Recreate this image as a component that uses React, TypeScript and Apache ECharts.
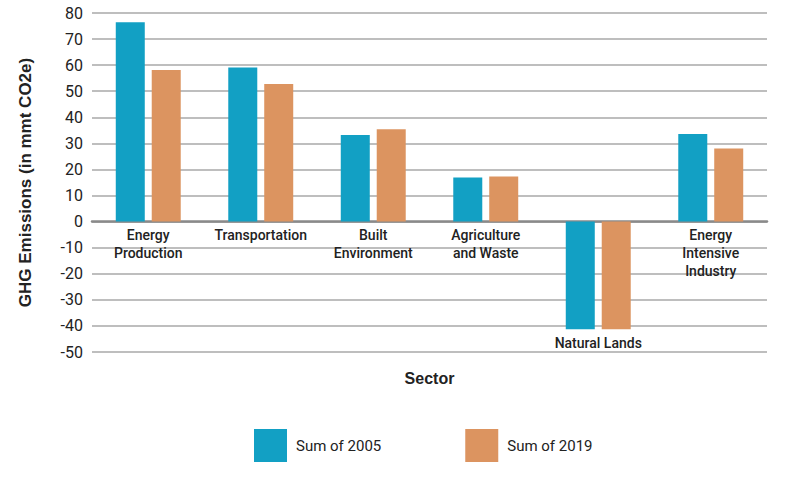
import React, { useEffect, useRef } from "react";
import * as echarts from "echarts";

const categories = [
  "Energy\nProduction",
  "Transportation",
  "Built\nEnvironment",
  "Agriculture\nand Waste",
  "Natural Lands",
  "Energy\nIntensive\nIndustry",
];
const sum2005 = [76.5, 59.1, 33.2, 16.9, -41.3, 33.6];
const sum2019 = [58.1, 52.8, 35.4, 17.3, -41.3, 28.0];
const seriesNames = ["Sum of 2005", "Sum of 2019"];

const FONT = "'Roboto', sans-serif";

export default function App() {
  const ref = useRef<HTMLDivElement>(null);
  useEffect(() => {
    if (!ref.current) return;
    const chart = echarts.init(ref.current, undefined, { renderer: "svg" });
    chart.setOption({
      animation: false,
      backgroundColor: "#ffffff",
      grid: { left: 92, right: 33, top: 13, bottom: 131, containLabel: false, outerBoundsMode: "none" },
      legend: {
        data: seriesNames,
        bottom: 16,
        left: 249,
        itemWidth: 33,
        itemHeight: 33,
        itemGap: 84,
        icon: "rect",
        textStyle: { fontFamily: FONT, fontSize: 15, color: "#222", padding: [0, 0, 0, 4] },
      },
      xAxis: {
        type: "category",
        data: categories,
        name: "Sector",
        nameLocation: "middle",
        nameGap: 18,
        nameTextStyle: { fontFamily: "'Liberation Sans', Arial, sans-serif", fontWeight: "bold", fontSize: 16, color: "#222" },
        axisLine: { onZero: true, lineStyle: { color: "#8a8a8a", width: 2.5 } },
        axisTick: { show: false },
        axisLabel: {
          interval: 0,
          margin: -126,
          fontFamily: FONT,
          fontSize: 14,
          fontWeight: 500,
          color: "#222",
          lineHeight: 18,
          formatter: (v: string) => (v === "Natural Lands" ? `{low|${v}}` : v),
          rich: {
            low: {
              fontFamily: FONT,
              fontSize: 14,
              fontWeight: 500,
              color: "#222",
              lineHeight: 18,
              padding: [215, 0, 0, 0],
            },
          },
        },
      },
      yAxis: {
        type: "value",
        min: -50,
        max: 80,
        interval: 10,
        name: "GHG Emissions (in mmt CO2e)",
        nameLocation: "middle",
        nameGap: 58,
        nameTextStyle: { fontFamily: "'Liberation Sans', Arial, sans-serif", fontWeight: "bold", fontSize: 17, color: "#222" },
        axisLine: { show: false },
        axisTick: { show: false },
        axisLabel: { fontFamily: FONT, fontSize: 16, color: "#222", margin: 9 },
        splitLine: { lineStyle: { color: "#a8a8a8", width: 1.5 } },
      },
      series: [
        {
          name: seriesNames[0],
          type: "bar",
          data: sum2005,
          barWidth: 29,
          barGap: "24%",
          itemStyle: { color: "#12a0c4" },
        },
        {
          name: seriesNames[1],
          type: "bar",
          data: sum2019,
          barWidth: 29,
          itemStyle: { color: "#dc9460" },
        },
      ],
    });
    return () => chart.dispose();
  }, []);
  return (
    <div
      ref={ref}
      style={{ position: "fixed", left: 0, top: 0, width: 800, height: 483, background: "#fff" }}
    />
  );
}
